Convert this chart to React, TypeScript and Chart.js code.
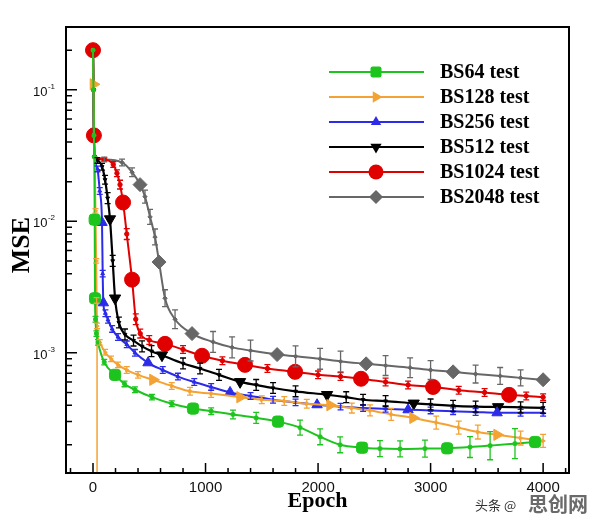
import React, { useEffect, useRef } from 'react';
import { Chart, registerables } from 'chart.js';

Chart.register(...registerables);

// ---------- data ----------
const SERIES_LABELS = ['BS64 test', 'BS128 test', 'BS256 test', 'BS512 test', 'BS1024 test', 'BS2048 test'];

const BS64_EPOCH = [0, 4, 8, 12, 15, 18, 22, 30, 44, 100, 196, 280, 373, 524, 700, 889, 1050, 1244, 1450, 1644, 1840, 2018, 2196, 2391, 2550, 2729, 2950, 3147, 3350, 3529, 3750, 3929];
const BS64_MSE = [0.2, 0.1, 0.045, 0.031, 0.0103, 0.0026, 0.0018, 0.0014, 0.0012, 0.00085, 0.00068, 0.00058, 0.000524, 0.00046, 0.00041, 0.000377, 0.00036, 0.00034, 0.00032, 0.0003, 0.00027, 0.00023, 0.0002, 0.00019, 0.000187, 0.000186, 0.000187, 0.000188, 0.000192, 0.000197, 0.000204, 0.00021];
const BS64_ERR = [0, 0, 0, 0, 0, 0, 0.05, 0.05, 0.05, 0.05, 0, 0.05, 0.05, 0.05, 0.05, 0, 0.06, 0.08, 0.1, 0, 0.14, 0.15, 0.15, 0, 0.15, 0.15, 0.16, 0, 0.2, 0.28, 0.3, 0.3];
const BS64_BIG = [15, 18, 196, 889, 1644, 2391, 3147, 3929];

const BS128_EPOCH = [0, 4, 8, 14, 22, 28, 32, 36, 60, 107, 160, 222, 300, 400, 533, 700, 862, 1050, 1307, 1500, 1700, 1900, 2107, 2300, 2462, 2650, 2844, 3050, 3250, 3420, 3591, 3800, 4000];
const BS128_MSE = [0.2, 0.11, 0.045, 0.031, 0.012, 0.005, 0.0025, 0.0016, 0.0012, 0.00101, 0.0009, 0.00081, 0.00074, 0.00068, 0.000624, 0.00056, 0.00051, 0.00049, 0.00046, 0.00044, 0.00043, 0.00041, 0.0004, 0.00038, 0.000365, 0.00034, 0.00032, 0.000295, 0.00027, 0.00025, 0.000238, 0.000225, 0.000214];
const BS128_ERR = [0, 0, 0, 0, 0.04, 0.04, 0.05, 0.05, 0.05, 0.05, 0.05, 0.05, 0.06, 0.06, 0, 0.06, 0.07, 0.07, 0, 0.07, 0.08, 0.08, 0, 0.09, 0.1, 0.11, 0, 0.12, 0.12, 0.13, 0, 0.13, 0.12];
const BS128_BIG = [4, 533, 1307, 2107, 2844, 3591];
const BS128_DROP_EPOCH = [36, 36];
const BS128_DROP_MSE = [0.0016, 0.000122];

const BS256_EPOCH = [0, 4, 8, 14, 40, 60, 80, 86, 92, 110, 133, 170, 222, 300, 373, 489, 620, 755, 900, 1050, 1218, 1400, 1600, 1800, 1991, 2200, 2400, 2600, 2800, 3000, 3200, 3400, 3591, 3800, 4000];
const BS256_MSE = [0.2, 0.1, 0.045, 0.031, 0.025, 0.017, 0.0098, 0.004, 0.0024, 0.002, 0.00178, 0.00152, 0.00132, 0.00116, 0.001, 0.00084, 0.00074, 0.00066, 0.0006, 0.00055, 0.0005, 0.00047, 0.00044, 0.00042, 0.000403, 0.00039, 0.00038, 0.000375, 0.000369, 0.000365, 0.00036, 0.000355, 0.00035, 0.00035, 0.00035];
const BS256_ERR = [0, 0, 0, 0, 0.05, 0.06, 0, 0.06, 0, 0.06, 0.06, 0.06, 0.06, 0.06, 0.06, 0, 0.06, 0.06, 0.06, 0.06, 0, 0.06, 0.06, 0.06, 0, 0.06, 0.06, 0.06, 0, 0.06, 0.06, 0.06, 0, 0.06, 0.06];
const BS256_BIG = [80, 92, 489, 1218, 1991, 2800, 3591];

const BS512_EPOCH = [0, 4, 8, 14, 40, 80, 107, 130, 151, 175, 196, 230, 284, 360, 436, 520, 613, 800, 951, 1120, 1307, 1450, 1600, 1800, 2080, 2250, 2400, 2600, 2850, 3000, 3200, 3400, 3600, 3800, 4000];
const BS512_MSE = [0.2, 0.1, 0.045, 0.031, 0.029, 0.026, 0.0207, 0.015, 0.0104, 0.005, 0.0026, 0.0017, 0.00138, 0.00124, 0.00112, 0.00103, 0.00096, 0.00083, 0.00076, 0.00068, 0.000602, 0.00057, 0.00054, 0.00051, 0.00048, 0.00046, 0.00044, 0.00043, 0.000413, 0.000405, 0.000395, 0.00039, 0.000388, 0.000385, 0.000382];
const BS512_ERR = [0, 0, 0, 0, 0.05, 0.06, 0.08, 0.1, 0, 0.1, 0, 0.1, 0.1, 0.1, 0.1, 0.1, 0, 0.1, 0.1, 0.1, 0, 0.1, 0.1, 0.1, 0, 0.1, 0.1, 0.1, 0, 0.1, 0.1, 0.1, 0, 0.1, 0.1];
const BS512_BIG = [151, 196, 613, 1307, 2080, 2850, 3600];

const BS1024_EPOCH = [0, 4, 8, 14, 100, 180, 213, 240, 267, 300, 347, 380, 420, 500, 640, 800, 969, 1150, 1351, 1550, 1796, 2000, 2200, 2382, 2600, 2800, 3022, 3250, 3480, 3698, 3850, 4000];
const BS1024_MSE = [0.2, 0.1, 0.045, 0.031, 0.0295, 0.027, 0.0232, 0.019, 0.0139, 0.008, 0.0036, 0.0018, 0.0014, 0.00125, 0.00117, 0.00106, 0.00095, 0.00087, 0.00081, 0.00076, 0.000717, 0.00068, 0.00066, 0.000635, 0.0006, 0.00057, 0.00055, 0.00052, 0.0005, 0.000479, 0.00047, 0.00046];
const BS1024_ERR = [0, 0, 0, 0, 0.03, 0.05, 0.06, 0.08, 0, 0.1, 0, 0.1, 0.08, 0.08, 0, 0.07, 0, 0.07, 0, 0.07, 0, 0.07, 0.07, 0, 0.07, 0.07, 0, 0.07, 0.07, 0, 0.07, 0.06];
const BS1024_BIG = [0, 8, 267, 347, 640, 969, 1351, 1796, 2382, 3022, 3698];

const BS2048_EPOCH = [0, 4, 8, 14, 100, 258, 347, 418, 462, 507, 551, 587, 640, 729, 880, 1067, 1236, 1400, 1636, 1800, 2018, 2200, 2427, 2600, 2818, 3000, 3200, 3400, 3618, 3800, 4000];
const BS2048_MSE = [0.2, 0.1, 0.045, 0.031, 0.0295, 0.028, 0.0236, 0.019, 0.0154, 0.0108, 0.0076, 0.0049, 0.0026, 0.0018, 0.0014, 0.00121, 0.0011, 0.00104, 0.00097, 0.00094, 0.0009, 0.00086, 0.000825, 0.0008, 0.00077, 0.00074, 0.000717, 0.00069, 0.000667, 0.000645, 0.000624];
const BS2048_ERR = [0, 0, 0, 0, 0.04, 0.06, 0.08, 0, 0.12, 0.14, 0.15, 0, 0.16, 0.18, 0, 0.2, 0.2, 0.2, 0, 0.2, 0.2, 0.2, 0, 0.19, 0.19, 0.18, 0, 0.17, 0.16, 0.15, 0];
const BS2048_BIG = [0, 8, 418, 587, 880, 1636, 2427, 3200, 4000];

const X_TICKS = [0, 1000, 2000, 3000, 4000];
const Y_TICKS = [0.001, 0.01, 0.1];
const Y_TICK_EXP = ['-3', '-2', '-1'];

// ---------- styles ----------
const COLORS = ['#1ec41e', '#f4a233', '#2b2be8', '#000000', '#e00000', '#676767'];
const POINT_STYLES = ['rectRounded', 'triangle', 'triangle', 'triangle', 'circle', 'rectRot'];
const POINT_ROT = [0, 90, 0, 180, 0, 0];
const BIG_R = [6.5, 6.5, 6, 6.5, 7.5, 7];
const SMALL_R = 2.2;

const SERIES = [
  { x: BS64_EPOCH, y: BS64_MSE, err: BS64_ERR, big: BS64_BIG },
  { x: BS128_EPOCH, y: BS128_MSE, err: BS128_ERR, big: BS128_BIG },
  { x: BS256_EPOCH, y: BS256_MSE, err: BS256_ERR, big: BS256_BIG },
  { x: BS512_EPOCH, y: BS512_MSE, err: BS512_ERR, big: BS512_BIG },
  { x: BS1024_EPOCH, y: BS1024_MSE, err: BS1024_ERR, big: BS1024_BIG },
  { x: BS2048_EPOCH, y: BS2048_MSE, err: BS2048_ERR, big: BS2048_BIG },
];

const SERIF = "'Liberation Serif', 'Times New Roman', serif";
const SANS = "'Liberation Sans', Arial, sans-serif";

function drawMarker(ctx: CanvasRenderingContext2D, style: string, rot: number, x: number, y: number, r: number, color: string) {
  ctx.save();
  ctx.fillStyle = color;
  ctx.translate(x, y);
  ctx.rotate((rot * Math.PI) / 180);
  ctx.beginPath();
  if (style === 'circle') {
    ctx.arc(0, 0, r, 0, Math.PI * 2);
  } else if (style === 'rectRot') {
    ctx.moveTo(0, -r); ctx.lineTo(r, 0); ctx.lineTo(0, r); ctx.lineTo(-r, 0); ctx.closePath();
  } else if (style === 'triangle') {
    for (let j = 0; j < 3; j++) {
      const a = (j * 2 * Math.PI) / 3;
      const px = Math.sin(a) * r, py = -Math.cos(a) * r;
      if (j === 0) ctx.moveTo(px, py); else ctx.lineTo(px, py);
    }
    ctx.closePath();
  } else {
    const h = r * 0.85;
    (ctx as any).roundRect(-h, -h, 2 * h, 2 * h, r * 0.35);
  }
  ctx.fill();
  ctx.restore();
}

const decorPlugin = {
  id: 'decor',
  afterDatasetsDraw(chart: any) {
    const ctx: CanvasRenderingContext2D = chart.ctx;
    const ys = chart.scales.y;
    SERIES.forEach((s, k) => {
      const meta = chart.getDatasetMeta(k);
      ctx.save();
      ctx.strokeStyle = COLORS[k];
      ctx.lineWidth = 1.3;
      s.x.forEach((x, i) => {
        const e = s.err[i];
        if (!e || s.big.includes(x)) return;
        const px = meta.data[i].x;
        const y1 = ys.getPixelForValue(s.y[i] * (1 + e));
        const y2 = ys.getPixelForValue(s.y[i] / (1 + e));
        ctx.beginPath();
        ctx.moveTo(px, y1); ctx.lineTo(px, y2);
        ctx.moveTo(px - 3, y1); ctx.lineTo(px + 3, y1);
        ctx.moveTo(px - 3, y2); ctx.lineTo(px + 3, y2);
        ctx.stroke();
      });
      ctx.restore();
    });
  },
  afterDraw(chart: any) {
    const ctx: CanvasRenderingContext2D = chart.ctx;
    const a = chart.chartArea;
    const xs = chart.scales.x;
    const ys = chart.scales.y;
    ctx.save();
    // frame
    ctx.strokeStyle = '#000';
    ctx.lineWidth = 2;
    ctx.strokeRect(a.left, a.top, a.right - a.left, a.bottom - a.top);
    // y ticks (inward)
    ctx.lineWidth = 1.5;
    ctx.beginPath();
    for (let d = -4; d <= -1; d++) {
      for (let m = 1; m <= 9; m++) {
        const v = m * Math.pow(10, d);
        if (v < ys.min || v > ys.max) continue;
        const py = ys.getPixelForValue(v);
        const len = m === 1 ? 11 : 6;
        ctx.moveTo(a.left, py); ctx.lineTo(a.left + len, py);
      }
    }
    // x ticks (inward)
    for (let v = -200; v <= 4200; v += 200) {
      const px = xs.getPixelForValue(v);
      const len = v % 1000 === 0 ? 10 : 5;
      ctx.moveTo(px, a.bottom); ctx.lineTo(px, a.bottom - len);
    }
    ctx.stroke();
    // y tick labels 10^n
    ctx.fillStyle = '#111';
    ctx.textBaseline = 'alphabetic';
    Y_TICKS.forEach((v, i) => {
      const py = ys.getPixelForValue(v);
      ctx.font = `8px ${SANS}`;
      ctx.textAlign = 'right';
      const expW = ctx.measureText(Y_TICK_EXP[i]).width;
      ctx.fillText(Y_TICK_EXP[i], 55, py - 1);
      ctx.font = `13px ${SANS}`;
      ctx.fillText('10', 55 - expW - 0.5, py + 6);
    });
    // legend
    const LEG_Y0 = 72, LEG_DY = 25;
    SERIES_LABELS.forEach((lab, k) => {
      const y = LEG_Y0 + k * LEG_DY;
      ctx.strokeStyle = COLORS[k];
      ctx.lineWidth = 2;
      ctx.beginPath(); ctx.moveTo(329, y); ctx.lineTo(424, y); ctx.stroke();
      drawMarker(ctx, POINT_STYLES[k], POINT_ROT[k], 376, y, BIG_R[k], COLORS[k]);
      ctx.fillStyle = '#000';
      ctx.font = `bold 20px ${SERIF}`;
      ctx.textAlign = 'left';
      ctx.textBaseline = 'middle';
      ctx.fillText(lab, 440, y + 1);
    });
    // MSE title
    ctx.save();
    ctx.translate(22, 245);
    ctx.rotate(-Math.PI / 2);
    ctx.font = `bold 26px ${SERIF}`;
    ctx.textAlign = 'center';
    ctx.textBaseline = 'middle';
    ctx.fillStyle = '#000';
    ctx.fillText('MSE', 0, 0);
    ctx.restore();
    // watermark
    ctx.textBaseline = 'middle';
    ctx.textAlign = 'left';
    ctx.fillStyle = '#333';
    ctx.font = `13px 'Noto Sans CJK SC', sans-serif`;
    ctx.fillText('头条 @', 475, 505);
    ctx.fillStyle = 'rgba(80,80,80,0.85)';
    ctx.font = `bold 20px 'Noto Sans CJK SC', sans-serif`;
    ctx.fillText('思创网', 528, 504);
    ctx.restore();
  },
};

export default function App() {
  const ref = useRef<HTMLCanvasElement | null>(null);
  useEffect(() => {
    if (!ref.current) return;
    const datasets: any[] = SERIES.map((s, k) => ({
      label: SERIES_LABELS[k],
      data: s.x.map((x, i) => ({ x, y: s.y[i] })),
      borderColor: COLORS[k],
      backgroundColor: COLORS[k],
      borderWidth: k === 3 ? 2.2 : 2,
      pointStyle: POINT_STYLES[k],
      pointRotation: POINT_ROT[k],
      pointRadius: s.x.map((x) => (s.big.includes(x) ? BIG_R[k] : SMALL_R)),
      pointBorderWidth: 1,
      pointBorderColor: COLORS[k],
      pointBackgroundColor: COLORS[k],
      cubicInterpolationMode: 'monotone',
      clip: false,
    }));
    datasets.push({
      label: 'BS128 drop',
      data: BS128_DROP_EPOCH.map((x, i) => ({ x, y: BS128_DROP_MSE[i] })),
      borderColor: COLORS[1],
      borderWidth: 1.5,
      pointRadius: 0,
    });
    const chart = new Chart(ref.current, {
      type: 'line',
      data: { datasets },
      plugins: [decorPlugin],
      options: {
        responsive: false,
        animation: false,
        layout: { padding: { left: 0, top: 27, right: 27, bottom: 0 } },
        plugins: { legend: { display: false }, tooltip: { enabled: false } },
        scales: {
          x: {
            type: 'linear',
            min: -240,
            max: 4230,
            afterBuildTicks: (scale: any) => { scale.ticks = X_TICKS.map((v) => ({ value: v })); },
            afterFit: (scale: any) => { scale.height = 49; },
            grid: { display: false, drawTicks: false },
            border: { display: false },
            ticks: {
              color: '#111',
              padding: 6,
              maxRotation: 0,
              autoSkip: false,
              font: { family: SANS, size: 15 },
              callback: (v: any) => String(v),
            },
            title: {
              display: true,
              text: 'Epoch',
              color: '#000',
              font: { family: SERIF, size: 22, weight: 'bold' },
              padding: { top: 0, bottom: 7 },
            },
          },
          y: {
            type: 'logarithmic',
            min: 0.000122,
            max: 0.3,
            afterBuildTicks: (scale: any) => { scale.ticks = Y_TICKS.map((v) => ({ value: v })); },
            afterFit: (scale: any) => { scale.width = 66; },
            grid: { display: false, drawTicks: false },
            border: { display: false },
            ticks: { display: false },
          },
        },
      } as any,
    });
    return () => chart.destroy();
  }, []);
  return (
    <div style={{ position: 'absolute', left: 0, top: 0, width: 596, height: 522, background: '#fff' }}>
      <canvas ref={ref} width={596} height={522} style={{ display: 'block' }} />
    </div>
  );
}
